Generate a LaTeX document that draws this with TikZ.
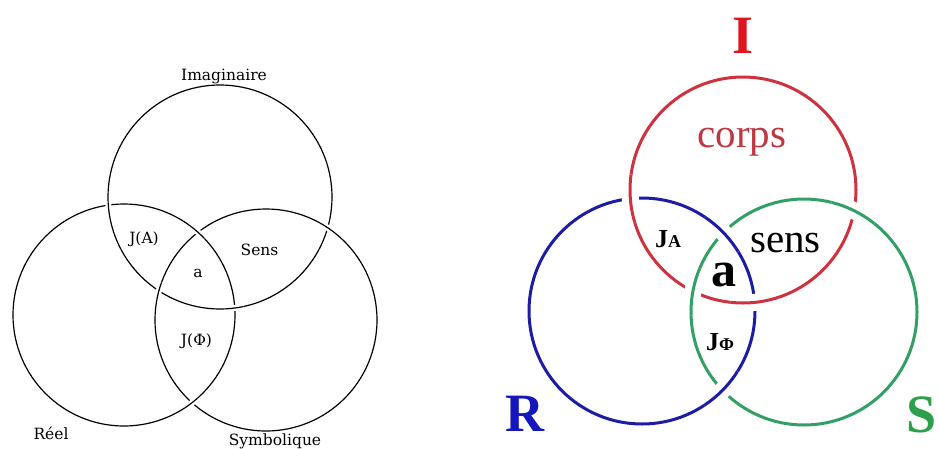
\documentclass[tikz,border=0pt]{standalone}
\usepackage{fontspec}
\newfontfamily\tnr{Liberation Serif}
\newfontfamily\dvs{DejaVu Serif}
\usetikzlibrary{intersections}
\definecolor{ringred}{RGB}{205,50,62}
\definecolor{ringblue}{RGB}{28,28,165}
\definecolor{ringgreen}{RGB}{50,160,100}
\definecolor{lblred}{RGB}{222,20,30}
\definecolor{lblblue}{RGB}{22,22,190}
\definecolor{lblgreen}{RGB}{45,160,75}
\definecolor{corpsred}{RGB}{190,55,65}
\begin{document}
\begin{tikzpicture}[x=1pt,y=-1pt,
  thinring/.style={draw=black, line width=1.2pt},
  thinhalo/.style={draw=white, line width=6pt},
  fatring/.style={line width=3pt},
  fathalo/.style={draw=white, line width=17pt},
  leftlbl/.style={inner sep=0pt, anchor=base, font=\dvs\fontsize{15.5}{15.5}\selectfont},
  bigletter/.style={inner sep=0pt, font=\tnr\bfseries\fontsize{54}{54}\selectfont},
  midword/.style={inner sep=0pt, anchor=base, font=\tnr\fontsize{41}{41}\selectfont}]
\useasboundingbox[fill=white] (0,0) rectangle (938,448);

% ---------- left diagram ----------
\coordinate (lcI) at (220,197);
\coordinate (lcR) at (124,315);
\coordinate (lcS) at (266,320);
\draw[thinring, name path=LI] (lcI) circle (112pt);
\draw[thinring, name path=LR] (lcR) circle (111pt);
\draw[thinring, name path=LS] (lcS) circle (111pt);
\path[name intersections={of=LI and LR, name=LIR}];
\path[name intersections={of=LR and LS, name=LRS}];
\path[name intersections={of=LS and LI, name=LSI}];
\begin{scope}
  \clip (LIR-1) circle (9pt) (LIR-2) circle (9pt);
  \draw[thinhalo] (lcI) circle (112pt);
  \draw[thinring] (lcI) circle (112pt);
\end{scope}
\begin{scope}
  \clip (LRS-1) circle (9pt) (LRS-2) circle (9pt);
  \draw[thinhalo] (lcR) circle (111pt);
  \draw[thinring] (lcR) circle (111pt);
\end{scope}
\begin{scope}
  \clip (LSI-1) circle (9pt) (LSI-2) circle (9pt);
  \draw[thinhalo] (lcS) circle (111pt);
  \draw[thinring] (lcS) circle (111pt);
\end{scope}

\node[leftlbl] (limag) at (224,80) {Imaginaire};
\node[leftlbl] (lreel) at (51,439) {Réel};
\node[leftlbl] (lsymb) at (275,445) {Symbolique};
\node[leftlbl] (lja) at (144,243) {J(A)};
\node[leftlbl] (lsens) at (259.5,255) {Sens};
\node[leftlbl] (la) at (198,277) {a};
\node[leftlbl] (ljphi) at (196.5,345) {J(Φ)};

% ---------- right diagram ----------
\coordinate (rcI) at (743,190);
\coordinate (rcR) at (642,311);
\coordinate (rcS) at (804,312);
\draw[fatring, ringred, name path=RI] (rcI) circle (113pt);
\draw[fatring, ringblue, name path=RR] (rcR) circle (113pt);
\draw[fatring, ringgreen, name path=RS] (rcS) circle (113pt);
\path[name intersections={of=RI and RR, name=RIR}];
\path[name intersections={of=RR and RS, name=RRS}];
\path[name intersections={of=RS and RI, name=RSI}];
\begin{scope}
  \clip (RIR-1) circle (24pt) (RIR-2) circle (24pt);
  \draw[fathalo] (rcI) circle (113pt);
  \draw[fatring, ringred] (rcI) circle (113pt);
\end{scope}
\begin{scope}
  \clip (RRS-1) circle (24pt) (RRS-2) circle (24pt);
  \draw[fathalo] (rcR) circle (113pt);
  \draw[fatring, ringblue] (rcR) circle (113pt);
\end{scope}
\begin{scope}
  \clip (RSI-1) circle (24pt) (RSI-2) circle (24pt);
  \draw[fathalo] (rcS) circle (113pt);
  \draw[fatring, ringgreen] (rcS) circle (113pt);
\end{scope}

\node[bigletter, anchor=base, text=lblred] (rI) at (743,53) {I};
\node[bigletter, anchor=base west, text=lblblue] (rR) at (505,431) {R};
\node[bigletter, anchor=base west, text=lblgreen] (rS) at (906,432) {S};
\node[midword, text=corpsred] (rcorps) at (742,147) {corps};
\node[midword, anchor=base west, text=black] (rsens) at (750,252) {sens};
\node[inner sep=0pt, anchor=base west, font=\tnr\bfseries\fontsize{50}{50}\selectfont] (ra) at (711,286) {a};
\node[inner sep=0pt, anchor=base west, font=\tnr\bfseries\fontsize{26}{26}\selectfont] (rja) at (655,247) {J{\fontsize{18}{18}\selectfont A}};
\node[inner sep=0pt, anchor=base west, font=\tnr\bfseries\fontsize{26}{26}\selectfont] (rjphi) at (706,350) {J{\fontsize{18}{18}\selectfont Φ}};
\end{tikzpicture}
\end{document}
